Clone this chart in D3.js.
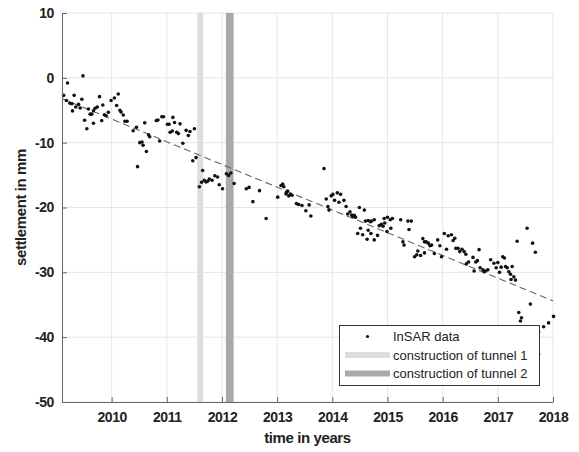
<!DOCTYPE html>
<html>
<head>
<meta charset="utf-8">
<script src="https://cdn.jsdelivr.net/npm/d3@7"></script>
<style>
  body { margin: 0; background: #fff; }
  svg { display: block; }
  text { font-family: "Liberation Sans", Arial, sans-serif; }
</style>
</head>
<body>
<svg id="chart" width="579" height="452"></svg>
<script>
// InSAR observation epochs (decimal years) and settlement (mm)
const years = [
  2009.13, 2009.18, 2009.20, 2009.24, 2009.28, 2009.29, 2009.32, 2009.35, 2009.40, 2009.46,
  2009.43, 2009.48, 2009.51, 2009.55, 2009.58, 2009.61, 2009.64, 2009.67, 2009.67, 2009.70,
  2009.74, 2009.78, 2009.82, 2009.84, 2009.87, 2009.90, 2009.94, 2009.99, 2010.05, 2010.12,
  2010.09, 2010.15, 2010.17, 2010.21, 2010.24, 2010.28, 2010.39, 2010.45, 2010.51, 2010.55,
  2010.57, 2010.60, 2010.63, 2010.47, 2010.67, 2010.69, 2010.81, 2010.84, 2010.87, 2010.91,
  2010.94, 2011.01, 2011.04, 2011.06, 2011.10, 2011.11, 2011.14, 2011.18, 2011.21, 2011.24,
  2011.29, 2011.35, 2011.39, 2011.42, 2011.50, 2011.47, 2011.53, 2011.65, 2011.59, 2011.63,
  2011.68, 2011.71, 2011.74, 2011.77, 2011.82, 2011.87, 2011.92, 2011.95, 2012.01, 2012.08,
  2012.12, 2012.16, 2012.22, 2012.44, 2012.49, 2012.56, 2012.68, 2012.80, 2013.01, 2013.07,
  2013.10, 2013.12, 2013.16, 2013.17, 2013.19, 2013.21, 2013.24, 2013.27, 2013.35, 2013.39,
  2013.45, 2013.52, 2013.58, 2013.61, 2013.85, 2013.89, 2013.92, 2013.94, 2013.98, 2014.01,
  2014.04, 2014.09, 2014.12, 2014.15, 2014.21, 2014.25, 2014.28, 2014.32, 2014.35, 2014.37,
  2014.40, 2014.42, 2014.46, 2014.49, 2014.51, 2014.55, 2014.58, 2014.60, 2014.63, 2014.65,
  2014.65, 2014.69, 2014.71, 2014.70, 2014.76, 2014.76, 2014.82, 2014.85, 2014.89, 2014.92,
  2014.95, 2014.94, 2015.00, 2015.05, 2015.09, 2014.99, 2015.06, 2015.24, 2015.28, 2015.30,
  2015.37, 2015.43, 2015.39, 2015.49, 2015.53, 2015.60, 2015.67, 2015.55, 2015.64, 2015.67,
  2015.70, 2015.74, 2015.77, 2015.80, 2015.85, 2015.91, 2015.95, 2016.03, 2016.10, 2016.16,
  2016.19, 2016.22, 2016.07, 2015.98, 2016.24, 2016.28, 2016.31, 2016.35, 2016.39, 2016.42,
  2016.47, 2016.43, 2016.55, 2016.57, 2016.60, 2016.63, 2016.66, 2016.68, 2016.73, 2016.75,
  2016.78, 2016.82, 2016.87, 2016.93, 2016.97, 2017.00, 2017.03, 2017.06, 2017.09, 2017.12,
  2017.14, 2017.17, 2017.20, 2017.23, 2017.26, 2017.24, 2017.29, 2017.32, 2017.35, 2017.53,
  2017.63, 2017.68, 2017.59, 2017.38, 2017.43, 2017.41, 2017.74, 2017.83, 2017.92, 2018.01,
  2017.74
];
const settlement = [
  -2.7, -3.5, -0.8, -3.9, -4.0, -5.1, -2.7, -4.5, -4.1, -3.3,
  -4.65, 0.3, -6.55, -7.85, -4.8, -5.6, -5.6, -7.0, -5.07, -4.7,
  -4.5, -2.9, -6.6, -4.2, -5.7, -5.85, -5.3, -3.5, -3.1, -2.5,
  -4.27, -5.0, -5.27, -5.73, -6.7, -6.7, -8.16, -7.63, -10.0, -9.9,
  -10.4, -6.94, -11.36, -13.7, -8.8, -9.08, -6.6, -6.5, -9.74, -6.0,
  -6.0, -7.15, -7.17, -8.4, -8.2, -6.1, -6.9, -8.4, -8.6, -7.1,
  -10.1, -8.1, -8.9, -8.28, -7.85, -12.8, -12.3, -14.3, -16.8, -16.1,
  -15.8, -16.07, -15.96, -15.6, -15.8, -15.1, -15.3, -16.5, -17.1, -14.8,
  -15.07, -14.68, -16.3, -17.1, -16.9, -19.1, -17.4, -21.7, -18.4, -16.6,
  -16.4, -16.8, -17.9, -17.66, -17.46, -18.2, -18.0, -18.1, -19.4, -19.54,
  -19.7, -20.5, -19.6, -21.3, -14.0, -18.7, -19.85, -20.4, -18.2, -17.98,
  -18.9, -17.74, -19.2, -17.97, -18.9, -19.85, -21.0, -20.65, -21.16, -21.4,
  -21.2, -21.5, -24.0, -20.0, -23.2, -24.2, -20.4, -22.1, -24.9, -22.0,
  -23.5, -22.2, -22.1, -24.0, -25.0, -21.9, -24.3, -22.8, -22.6, -22.9,
  -22.4, -21.7, -21.5, -21.9, -21.7, -23.7, -23.2, -21.9, -25.3, -25.8,
  -22.1, -22.1, -23.4, -27.6, -27.3, -27.4, -27.0, -26.7, -24.8, -25.3,
  -25.3, -25.5, -25.9, -25.8, -27.1, -25.0, -25.9, -24.0, -24.35, -24.2,
  -25.1, -24.75, -26.45, -27.6, -26.3, -26.3, -26.8, -26.45, -26.8, -27.2,
  -28.4, -28.7, -27.7, -29.8, -28.4, -28.2, -26.5, -29.3, -29.6, -29.9,
  -29.8, -29.6, -28.05, -28.6, -29.3, -28.5, -30.0, -29.2, -27.6, -27.8,
  -29.1, -29.3, -29.9, -30.3, -29.1, -31.1, -30.7, -31.2, -25.2, -23.2,
  -25.5, -26.9, -34.9, -36.2, -37.0, -37.5, -39.2, -38.4, -37.8, -36.8,
  -42.6
];

// Linear trend of the settlement
const trendYears = [2009.1, 2018];
const trendValues = [-3.2, -34.4];

// Construction periods
const tunnel1 = [2011.55, 2011.66];
const tunnel2 = [2012.07, 2012.21];

const xTicks = [2010, 2011, 2012, 2013, 2014, 2015, 2016, 2017, 2018];
const yTicks = [10, 0, -10, -20, -30, -40, -50];
const legendLabels = ["InSAR data", "construction of tunnel 1", "construction of tunnel 2"];

const colors = { tunnel1: "#dedede", tunnel2: "#a9a9a9", grid: "#e6e6e6", axis: "#666", text: "#222" };

const svg = d3.select("#chart");
const plotLeft = 62, plotRight = 553, plotTop = 13, plotBottom = 402;

const x = d3.scaleLinear().domain([2009.1, 2018]).range([plotLeft, plotRight]);
const y = d3.scaleLinear().domain([-50, 10]).range([plotBottom, plotTop]);

// grid
const grid = svg.append("g");
grid.selectAll("line.v").data(xTicks).join("line")
  .attr("x1", d => x(d)).attr("x2", d => x(d))
  .attr("y1", plotTop).attr("y2", plotBottom)
  .attr("stroke", colors.grid).attr("stroke-width", 1);
grid.selectAll("line.h").data(yTicks).join("line")
  .attr("x1", plotLeft).attr("x2", plotRight)
  .attr("y1", d => y(d)).attr("y2", d => y(d))
  .attr("stroke", colors.grid).attr("stroke-width", 1);

// construction periods
const bands = [
  { range: tunnel1, color: colors.tunnel1 },
  { range: tunnel2, color: colors.tunnel2 }
];
svg.append("g").selectAll("rect").data(bands).join("rect")
  .attr("x", d => x(d.range[0]))
  .attr("width", d => x(d.range[1]) - x(d.range[0]))
  .attr("y", plotTop).attr("height", plotBottom - plotTop)
  .attr("fill", d => d.color);

// trend line
svg.append("line")
  .attr("x1", x(trendYears[0])).attr("y1", y(trendValues[0]))
  .attr("x2", x(trendYears[1])).attr("y2", y(trendValues[1]))
  .attr("stroke", "#666").attr("stroke-width", 1.1)
  .attr("stroke-dasharray", "7,4");

// InSAR points
svg.append("g").selectAll("circle").data(years).join("circle")
  .attr("cx", d => x(d))
  .attr("cy", (d, i) => y(settlement[i]))
  .attr("r", 1.8)
  .attr("fill", "#111");

// axes
const xAxis = d3.axisBottom(x).tickValues(xTicks).tickFormat(d3.format("d"))
  .tickSizeInner(-5).tickSizeOuter(0).tickPadding(10);
const yAxis = d3.axisLeft(y).tickValues(yTicks).tickFormat(d => String(d))
  .tickSizeInner(-5).tickSizeOuter(0).tickPadding(8);

const gx = svg.append("g").attr("transform", `translate(0,${plotBottom})`).call(xAxis);
const gy = svg.append("g").attr("transform", `translate(${plotLeft},0)`).call(yAxis);
[gx, gy].forEach(g => {
  g.select(".domain").attr("stroke", colors.axis);
  g.selectAll(".tick line").attr("stroke", colors.axis);
  g.selectAll(".tick text")
    .attr("fill", colors.text)
    .style("font-family", "'Liberation Sans', Arial, sans-serif")
    .style("font-size", "14px").style("font-weight", "bold")
    .style("letter-spacing", "-0.4px");
});

// axis titles
svg.append("text")
  .attr("x", (plotLeft + plotRight) / 2).attr("y", 443)
  .attr("text-anchor", "middle")
  .attr("fill", colors.text)
  .style("font-size", "15px").style("font-weight", "bold").style("letter-spacing", "-0.4px")
  .text("time in years");
svg.append("text")
  .attr("transform", `translate(26,${(plotTop + plotBottom) / 2}) rotate(-90)`)
  .attr("text-anchor", "middle")
  .attr("fill", colors.text)
  .style("font-size", "15px").style("font-weight", "bold").style("letter-spacing", "-0.4px")
  .text("settlement in mm");

// legend
const lg = svg.append("g");
lg.append("rect")
  .attr("x", 339.5).attr("y", 325.5).attr("width", 200).attr("height", 60)
  .attr("fill", "#fff").attr("stroke", "#333").attr("stroke-width", 1);
const rows = [336.5, 355, 373.5];
lg.append("circle").attr("cx", 367.5).attr("cy", rows[0]).attr("r", 1.6).attr("fill", "#111");
lg.append("line").attr("x1", 345).attr("x2", 390).attr("y1", rows[1]).attr("y2", rows[1])
  .attr("stroke", colors.tunnel1).attr("stroke-width", 6);
lg.append("line").attr("x1", 345).attr("x2", 390).attr("y1", rows[2]).attr("y2", rows[2])
  .attr("stroke", colors.tunnel2).attr("stroke-width", 6);
lg.selectAll("text").data(legendLabels).join("text")
  .attr("x", 393).attr("y", (d, i) => rows[i])
  .attr("dy", "0.35em")
  .attr("fill", colors.text)
  .style("font-size", "13px")
  .text(d => d);
</script>
</body>
</html>
